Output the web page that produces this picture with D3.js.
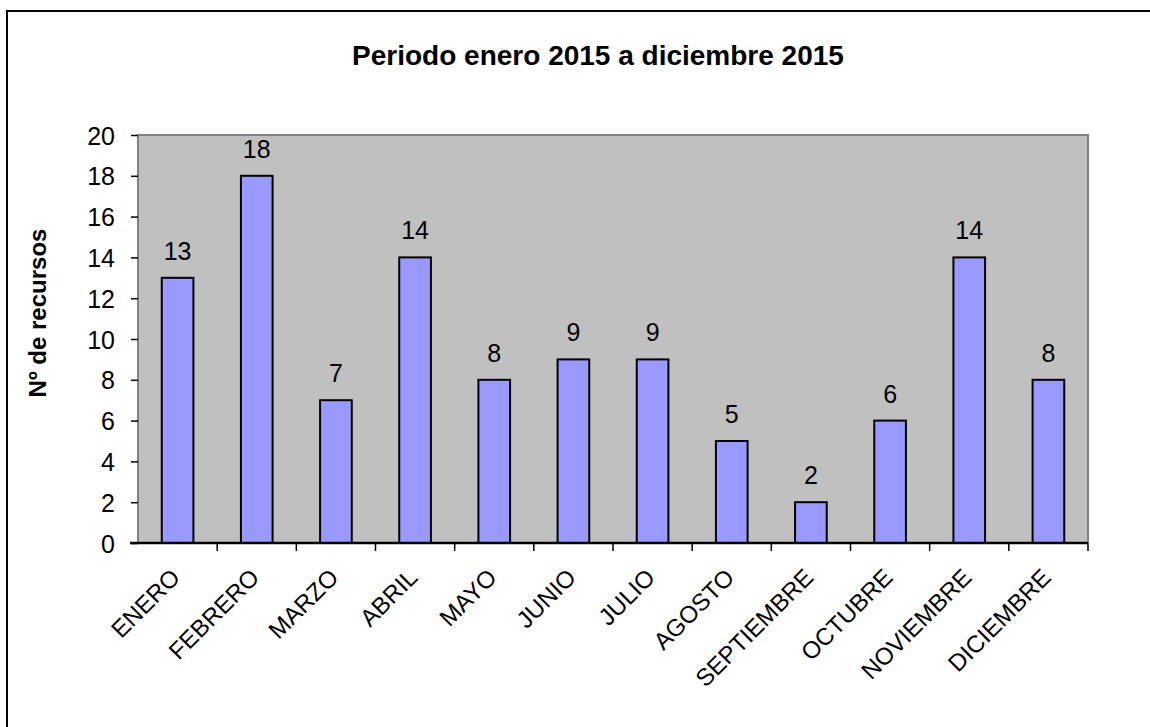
<!DOCTYPE html>
<html lang="es">
<head>
  <meta charset="UTF-8">
  <title>Periodo enero 2015 a diciembre 2015</title>
  <script src="https://d3js.org/d3.v7.min.js"></script>
  <style>
    body {
      margin: 0;
      background-color: #ffffff;
      overflow: hidden;
    }
    svg text {
      font-family: "Liberation Sans", Arial, sans-serif;
      fill: #000000;
    }
  </style>
</head>
<body>
  <svg id="chart" width="1150" height="727"></svg>

  <script>
    const months = ["ENERO", "FEBRERO", "MARZO", "ABRIL", "MAYO", "JUNIO",
                    "JULIO", "AGOSTO", "SEPTIEMBRE", "OCTUBRE", "NOVIEMBRE", "DICIEMBRE"];
    const recursos = [13, 18, 7, 14, 8, 9, 9, 5, 2, 6, 14, 8];
    const yTicks = [0, 2, 4, 6, 8, 10, 12, 14, 16, 18, 20];

    const svg = d3.select("#chart");

    // outer chart border
    svg.append("rect")
       .attr("x", 7).attr("y", 11)
       .attr("width", 1160).attr("height", 740)
       .attr("fill", "none")
       .attr("stroke", "#000")
       .attr("stroke-width", 2);

    const plot = { left: 138, top: 135, right: 1088, bottom: 543 };

    const x = d3.scaleBand()
                .domain(months)
                .range([plot.left, plot.right])
                .paddingInner(0.6)
                .paddingOuter(0.3);

    const xBand = d3.scaleBand()
                    .domain(months)
                    .range([plot.left, plot.right]);

    const y = d3.scaleLinear()
                .domain([0, 20])
                .range([plot.bottom, plot.top]);

    // plot area background
    svg.append("rect")
       .attr("x", plot.left).attr("y", plot.top)
       .attr("width", plot.right - plot.left)
       .attr("height", plot.bottom - plot.top)
       .attr("fill", "#c0c0c0");

    svg.append("path")
       .attr("d", `M${plot.left},${plot.bottom}V${plot.top}H${plot.right}V${plot.bottom}`)
       .attr("fill", "none")
       .attr("stroke", "#808080")
       .attr("stroke-width", 2);

    // bars
    svg.selectAll("rect.bar")
       .data(recursos)
       .enter()
       .append("rect")
       .attr("class", "bar")
       .attr("x", (d, i) => x(months[i]))
       .attr("y", d => y(d))
       .attr("width", x.bandwidth())
       .attr("height", d => y(0) - y(d))
       .attr("fill", "#9999ff")
       .attr("stroke", "#000")
       .attr("stroke-width", 2);

    // value labels
    svg.selectAll("text.val")
       .data(recursos)
       .enter()
       .append("text")
       .attr("class", "val")
       .attr("x", (d, i) => x(months[i]) + x.bandwidth() / 2)
       .attr("y", d => y(d) - 18)
       .attr("text-anchor", "middle")
       .style("font-size", "25px")
       .text(d => d);

    // y axis
    const yAxis = d3.axisLeft(y)
                    .tickValues(yTicks)
                    .tickSize(7)
                    .tickPadding(16);

    const gy = svg.append("g")
                  .attr("transform", `translate(${plot.left},0)`)
                  .call(yAxis);
    gy.select(".domain").remove();
    gy.selectAll(".tick line").attr("stroke", "#000").attr("stroke-width", 1.5);
    gy.selectAll(".tick text")
      .style("font-size", "25px")
      .attr("dy", "0.36em");

    // x axis
    const boundaries = months.map(m => xBand(m)).concat([plot.right]);
    svg.selectAll("line.xtick")
       .data(boundaries.slice(1))
       .enter()
       .append("line")
       .attr("class", "xtick")
       .attr("x1", d => d).attr("x2", d => d)
       .attr("y1", plot.bottom).attr("y2", plot.bottom + 8)
       .attr("stroke", "#000")
       .attr("stroke-width", 1.5);

    svg.append("line")
       .attr("x1", plot.left - 8).attr("x2", plot.right)
       .attr("y1", plot.bottom).attr("y2", plot.bottom)
       .attr("stroke", "#000")
       .attr("stroke-width", 2.5);

    svg.selectAll("text.month")
       .data(months)
       .enter()
       .append("text")
       .attr("class", "month")
       .attr("transform", d => `translate(${xBand(d) + xBand.bandwidth() / 2 - 2},${plot.bottom + 30}) rotate(-45)`)
       .attr("text-anchor", "end")
       .attr("dy", "0.35em")
       .style("font-size", "24px")
       .text(d => d);

    // title
    svg.append("text")
       .attr("x", 598)
       .attr("y", 65)
       .attr("text-anchor", "middle")
       .style("font-size", "28px")
       .style("font-weight", "bold")
       .text("Periodo enero 2015 a diciembre 2015");

    // y axis title
    svg.append("text")
       .attr("transform", "translate(46,313) rotate(-90)")
       .attr("text-anchor", "middle")
       .style("font-size", "24px")
       .style("font-weight", "bold")
       .text("Nº de recursos");
  </script>
</body>
</html>
